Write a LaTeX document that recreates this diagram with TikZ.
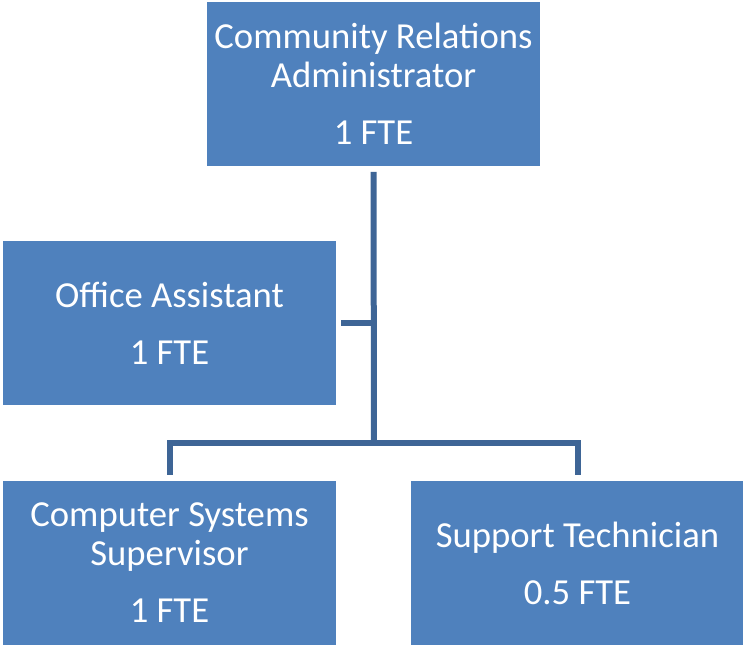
\documentclass[tikz,border=0pt]{standalone}
\usepackage{fontspec}
\setmainfont{Carlito}
\usetikzlibrary{positioning}
\definecolor{boxblue}{HTML}{4F81BD}
\definecolor{lineblue}{HTML}{3E6596}

\begin{document}
\begin{tikzpicture}[x=0.75pt,y=-0.75pt,
                      orgbox/.style={rectangle, fill=boxblue, text=white, align=center, inner sep=0pt, minimum width=249.75pt, minimum height=123pt, font=\fontsize{27.5}{29.25}\selectfont},
                      orgline/.style={draw=lineblue, line width=4.5pt},
                  ]
                      \useasboundingbox (0,0) rectangle (743,646);
                      %Nodes
                      \node[orgbox]   (admin)   at (373.5,83.5)   {Community Relations\\Administrator\\[13.5pt]1 FTE};
                      \node[orgbox]   (office)  at (169.5,323)    {Office Assistant\\[13.5pt]1 FTE};
                      \node[orgbox]   (compsys) at (169.5,563)    {Computer Systems\\Supervisor\\[13.5pt]1 FTE};
                      \node[orgbox]   (support) at (577.5,563)    {Support Technician\\[13.5pt]0.5 FTE};
                      \coordinate     (hub)     at (374,443);

                      %Lines
                      \draw[orgline] ([yshift=-4.5pt]admin.south) -- (hub);
                      \draw[orgline] ([xshift=3.75pt]office.east) -- (office.east -| hub);
                      \draw[orgline] ([yshift=4.5pt]compsys.north) |- (hub) -| ([yshift=4.5pt]support.north);
\end{tikzpicture}
\end{document}
